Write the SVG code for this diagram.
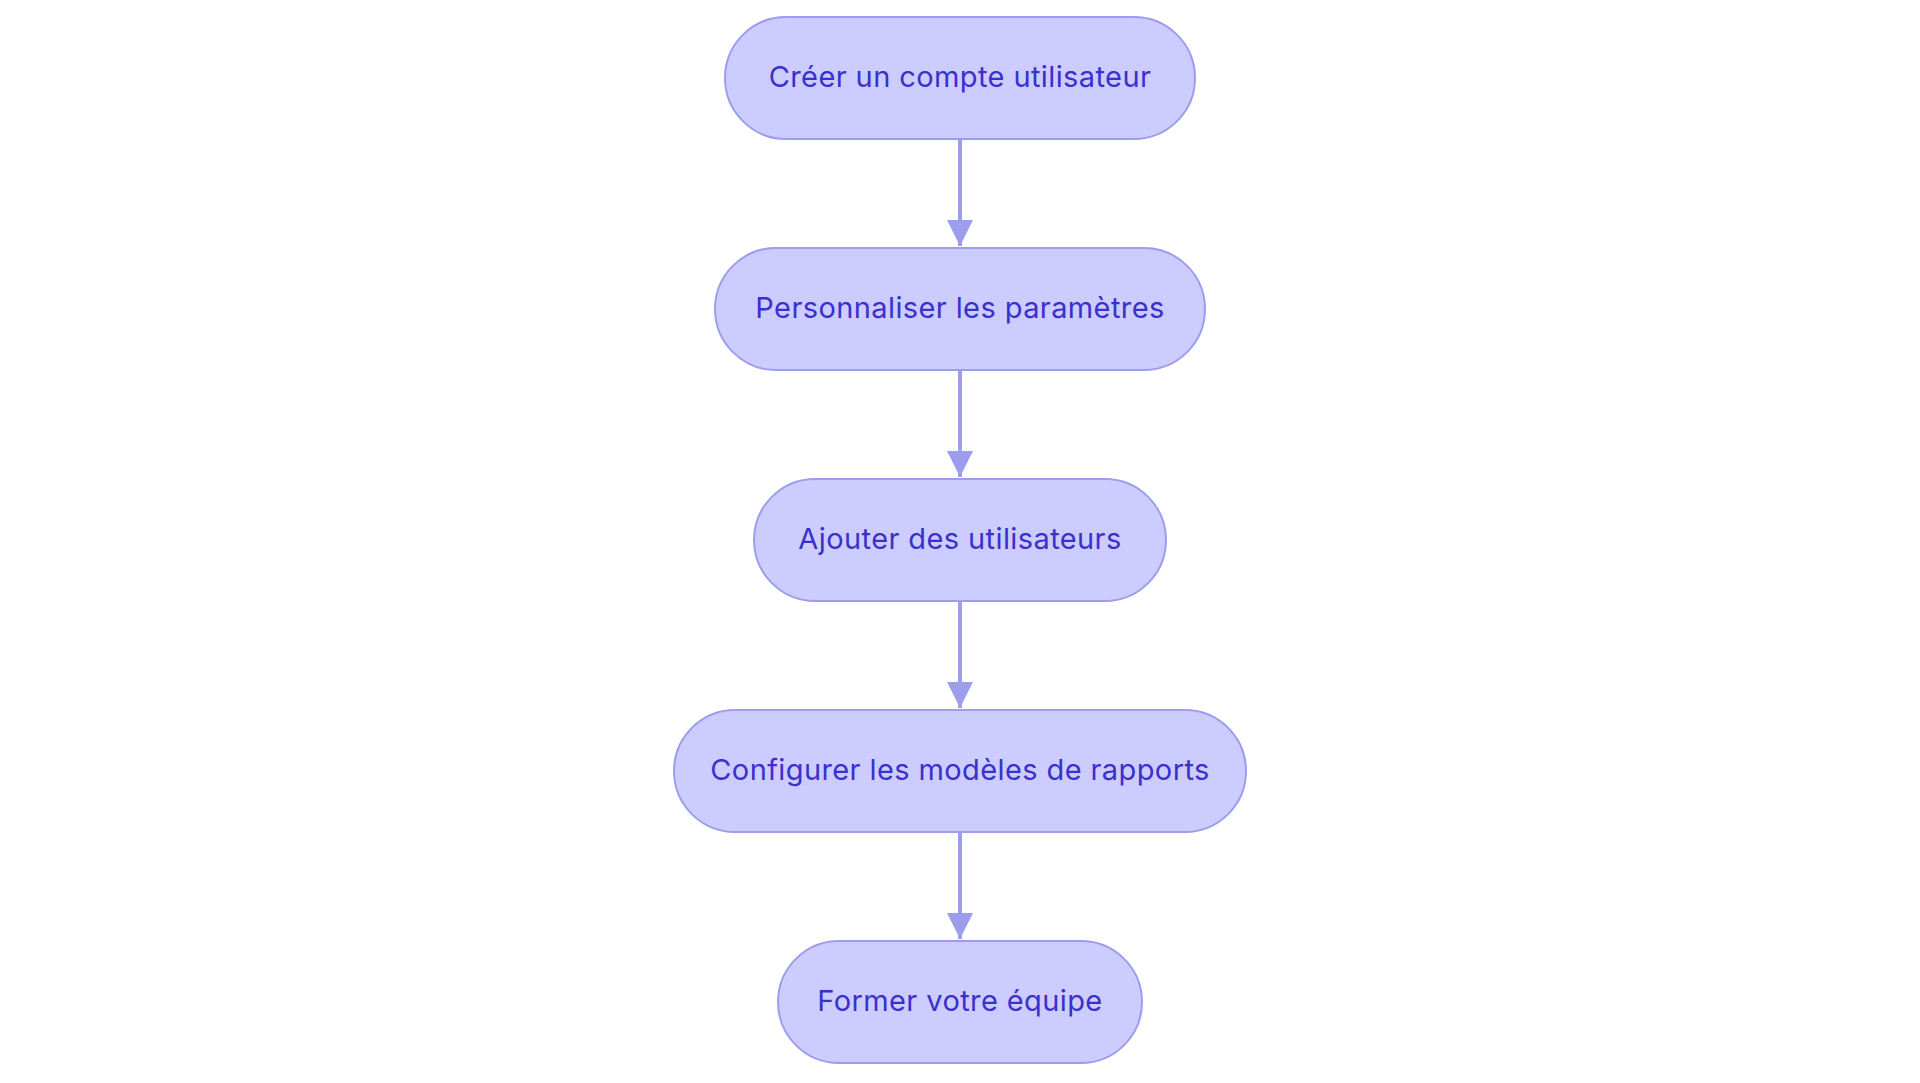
<svg xmlns="http://www.w3.org/2000/svg" width="1920" height="1083" viewBox="0 0 1920 1083">
<style>
.n rect{fill:#ccccff;stroke:#9d9dee;stroke-width:2}
.n text{font-family:Inter,"Noto Sans",sans-serif;font-size:29px;letter-spacing:0.4px;fill:#3a30cc;text-anchor:middle;dominant-baseline:central}
.e line{stroke:#9d9dee;stroke-width:4}
</style>
<defs><marker id="a" viewBox="0 0 10 10" refX="10" refY="5" markerWidth="6.5" markerHeight="6.5" markerUnits="strokeWidth" orient="auto"><path d="M0,0L10,5L0,10z" fill="#9d9dee"/></marker></defs>
<rect width="1920" height="1083" fill="#fff"/>
<g class="e">
<line x1="960" y1="139" x2="960" y2="246" marker-end="url(#a)"/>
<line x1="960" y1="370" x2="960" y2="477" marker-end="url(#a)"/>
<line x1="960" y1="601" x2="960" y2="708" marker-end="url(#a)"/>
<line x1="960" y1="832" x2="960" y2="939" marker-end="url(#a)"/>
</g>
<g id="n1" class="n"><rect x="725" y="17" width="470" height="122" rx="61"/><text x="960" y="76">Créer un compte utilisateur</text></g>
<g id="n2" class="n"><rect x="715" y="248" width="490" height="122" rx="61"/><text x="960" y="307">Personnaliser les paramètres</text></g>
<g id="n3" class="n"><rect x="754" y="479" width="412" height="122" rx="61"/><text x="960" y="538">Ajouter des utilisateurs</text></g>
<g id="n4" class="n"><rect x="674" y="710" width="572" height="122" rx="61"/><text x="960" y="769">Configurer les modèles de rapports</text></g>
<g id="n5" class="n"><rect x="778" y="941" width="364" height="122" rx="61"/><text x="960" y="1000">Former votre équipe</text></g>
</svg>
